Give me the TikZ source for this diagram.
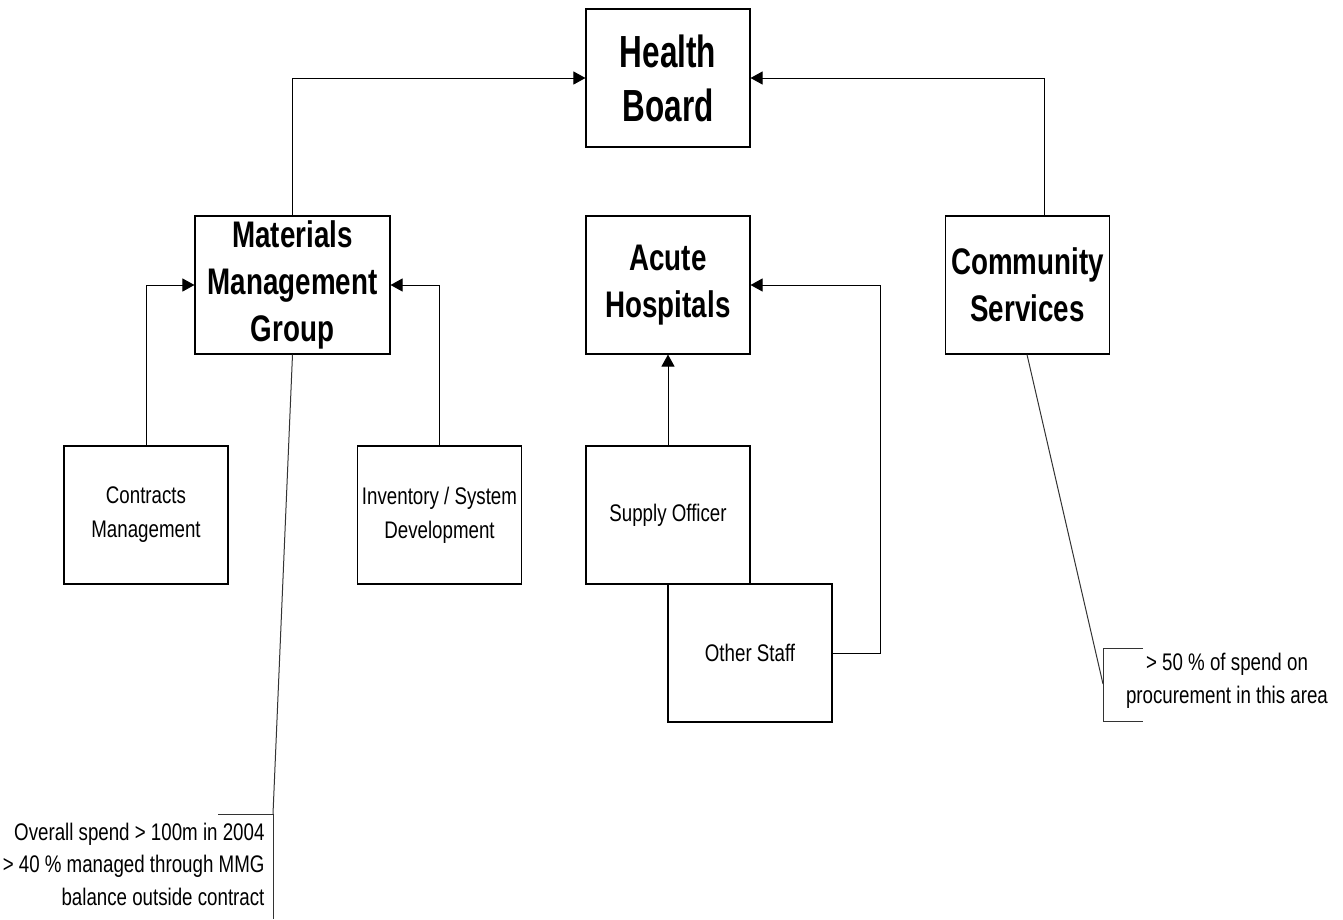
\documentclass[tikz,border=0pt]{standalone}
\usepackage{fontspec}
\setmainfont{Liberation Sans}
\newfontfamily\titlefont{Liberation Sans}[FakeStretch=0.70]
\newfontfamily\midfont{Liberation Sans}[FakeStretch=0.75]
\newfontfamily\smallfont{Liberation Sans}[FakeStretch=0.78]
\usetikzlibrary{arrows.meta}
\begin{document}
\begin{tikzpicture}[x=1pt,y=-1pt,
  box/.style={draw=black, line width=1.1pt, minimum width=164pt, minimum height=138pt, inner sep=0pt, align=center, fill=white},
  big/.style={font=\titlefont\bfseries\fontsize{45}{54}\selectfont},
  mid/.style={font=\midfont\bfseries\fontsize{37}{47}\selectfont},
  small/.style={font=\smallfont\fontsize{24}{34}\selectfont},
  conn/.style={draw=black, line width=1pt, -{Triangle[length=12pt,width=13pt]}},
  lead/.style={draw=black!80, line width=1pt}]
\useasboundingbox (0,0) rectangle (1343,919);
\node[box,big] (hb) at (668,78) {Health\\Board};
\node[box,mid,minimum width=195pt] (mmg) at (292.5,285) {Materials\\Management\\Group};
\node[box,mid] (acute) at (668,285) {Acute\\Hospitals};
\node[box,mid] (comm) at (1027.5,285) {Community\\Services};
\node[box,small] (contracts) at (146,515) {Contracts\\Management};
\node[box,small] (inventory) at (439.5,515) {Inventory / System\\Development};
\node[box,small] (supply) at (668,515) {Supply Officer};
\node[box,small] (other) at (750,653) {Other Staff};

\draw[conn] (mmg.north) |- (hb.west);
\draw[conn] ([xshift=16.5pt]comm.north) |- (hb.east);
\draw[conn] (contracts.north) |- (mmg.west);
\draw[conn] (inventory.north) |- (mmg.east);
\draw[conn] (supply.north) -- (acute.south);
\draw[conn] (other.east) -- ++(48,0) |- (acute.east);

% annotation 1
\node[small, anchor=east, align=right, font=\smallfont\fontsize{24}{32.5}\selectfont] (note1) at (268,864) {Overall spend > 100m in 2004\\> 40 \% managed through MMG\\balance outside contract};
\coordinate (b1a) at (218,814);
\coordinate (b1b) at (273,814);
\coordinate (b1c) at (273,919);
\draw[lead] (mmg.south) -- (b1b);
\draw[lead] (b1a) -- (b1b) -- (b1c);

% annotation 2
\node[small, align=center, font=\smallfont\fontsize{24}{33}\selectfont] (note2) at (1227,681) {> 50 \% of spend on\\procurement in this area};
\coordinate (b2a) at (1143,648);
\coordinate (b2b) at (1103,648);
\coordinate (b2m) at (1103,684);
\coordinate (b2c) at (1103,721);
\coordinate (b2d) at (1143,721);
\draw[lead] ([xshift=-0.5pt]comm.south) -- (b2m);
\draw[lead] (b2a) -- (b2b) -- (b2c) -- (b2d);
\end{tikzpicture}
\end{document}
